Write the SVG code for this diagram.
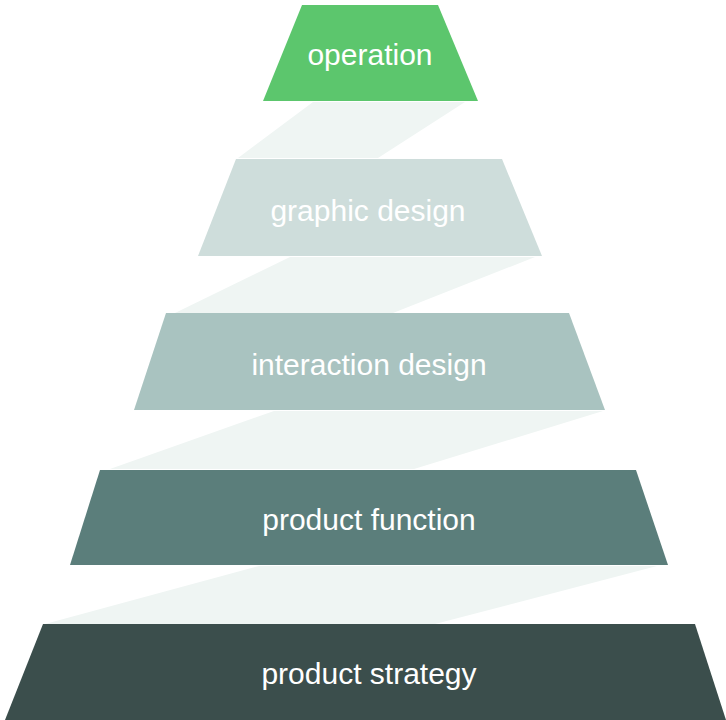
<svg xmlns="http://www.w3.org/2000/svg" width="726" height="720" viewBox="0 0 726 720">
  <style>
    .band { fill: #eff5f3; }
    .label { font-family: "Liberation Sans", Arial, sans-serif; font-size: 30px; fill: #ffffff; text-anchor: middle; }
  </style>
  <rect width="726" height="720" fill="#ffffff"/>

  <!-- light bands linking each level to the one beneath -->
  <g id="connectors">
    <polygon class="band" points="313,102 465,102 378,158 238,158"/>
    <polygon class="band" points="290,257 535,257 393,313 175,313"/>
    <polygon class="band" points="274,411 603,411 414,469 110,469"/>
    <polygon class="band" points="259,566 657,566 435,624 45,624"/>
  </g>

  <g id="operation">
    <polygon points="302,5 438,5 478,101 263,101" fill="#5cc66d"/>
    <text class="label" x="370" y="65">operation</text>
  </g>

  <g id="graphic-design">
    <polygon points="236,159 502,159 542,256 198,256" fill="#cedddb"/>
    <text class="label" x="368" y="221">graphic design</text>
  </g>

  <g id="interaction-design">
    <polygon points="166,313 569,313 605,410 134,410" fill="#a9c3c0"/>
    <text class="label" x="369" y="375">interaction design</text>
  </g>

  <g id="product-function">
    <polygon points="100,470 636,470 668,565 70,565" fill="#5b7e7b"/>
    <text class="label" x="369" y="530">product function</text>
  </g>

  <g id="product-strategy">
    <polygon points="43,624 695,624 726,720 5,720" fill="#3b4e4c"/>
    <text class="label" x="369" y="684">product strategy</text>
  </g>
</svg>
